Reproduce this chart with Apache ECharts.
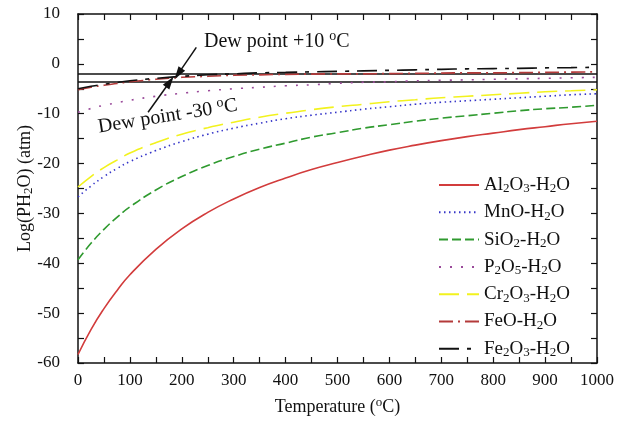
<!DOCTYPE html>
<html>
<head>
<meta charset="utf-8">
<script src="https://cdn.jsdelivr.net/npm/echarts@6/dist/echarts.min.js"></script>
<style>
  html, body { margin: 0; padding: 0; background: #fff; }
  #chart { width: 617px; height: 423px; }
</style>
</head>
<body>
<div id="chart"></div>
<script>
// Temperatura (°C)
const temps = [0, 25, 50, 75, 100, 150, 200, 250, 300, 350, 400, 450, 500, 550, 600, 650, 700, 750, 800, 850, 900, 950, 1000];

// Log(PH2O)
const al2o3 = [-58.3, -53.3, -49.1, -45.5, -42.3, -37.2, -33.1, -29.8, -27.1, -24.8, -22.9, -21.2, -19.8, -18.5, -17.3, -16.3, -15.4, -14.6, -13.9, -13.2, -12.6, -12.0, -11.5];
const mno   = [-26.7, -24.5, -22.6, -21.0, -19.6, -17.4, -15.6, -14.1, -12.9, -11.9, -11.0, -10.3, -9.7, -9.1, -8.6, -8.1, -7.7, -7.4, -7.1, -6.8, -6.5, -6.2, -6.0];
const sio2  = [-39.3, -36.0, -33.2, -30.8, -28.7, -25.3, -22.6, -20.4, -18.6, -17.1, -15.9, -14.7, -13.8, -12.9, -12.2, -11.5, -10.9, -10.4, -9.9, -9.4, -9.0, -8.7, -8.3];
const p2o5  = [-9.7, -8.95, -8.3, -7.8, -7.3, -6.5, -5.9, -5.4, -5.0, -4.7, -4.4, -4.2, -3.9, -3.7, -3.6, -3.4, -3.3, -3.2, -3.1, -3.0, -2.9, -2.8, -2.7];
const cr2o3 = [-24.7, -22.6, -20.8, -19.3, -17.9, -15.8, -14.1, -12.8, -11.7, -10.7, -9.9, -9.2, -8.6, -8.1, -7.6, -7.2, -6.8, -6.5, -6.2, -5.9, -5.6, -5.4, -5.2];
const feo   = [-5.2, -4.7, -4.3, -3.95, -3.6, -3.1, -2.7, -2.5, -2.3, -2.2, -2.1, -2.05, -2.0, -2.0, -1.95, -1.9, -1.85, -1.8, -1.8, -1.75, -1.7, -1.65, -1.6];
const fe2o3 = [-5.0, -4.5, -4.1, -3.75, -3.4, -2.9, -2.5, -2.2, -2.0, -1.8, -1.7, -1.6, -1.5, -1.4, -1.3, -1.2, -1.1, -1.0, -0.95, -0.9, -0.8, -0.75, -0.7];

const seriesNames = ['Al2O3-H2O', 'MnO-H2O', 'SiO2-H2O', 'P2O5-H2O', 'Cr2O3-H2O', 'FeO-H2O', 'Fe2O3-H2O'];

// Puntos de rocío (log atm)
const dewPoints = [-2.0, -3.5];

const xMin = 0, xMax = 1000, xStep = 100;
const yMin = -60, yMax = 10, yStep = 10;

const serif = 'Liberation Serif';
const ink = '#111';

const rich = {
  sub: { fontFamily: serif, fontSize: 13, lineHeight: 14, padding: [8, 0, 0, 0], color: ink },
  sup: { fontFamily: serif, fontSize: 13, lineHeight: 14, padding: [0, 0, 9, 0], color: ink },
};
const chem = (s) => s.replace(/(\d)/g, '{sub|$1}');

const styles = [
  { color: '#d23c3c', type: 'solid' },
  { color: '#3434c8', type: [1.5, 3.5] },
  { color: '#2f9a2f', type: [9, 4] },
  { color: '#9a4a9a', type: [2, 9] },
  { color: '#f2f21e', type: [20, 8] },
  { color: '#b43a3a', type: [14, 5, 2, 5] },
  { color: '#111111', type: [20, 8, 4, 8] },
];
const values = [al2o3, mno, sio2, p2o5, cr2o3, feo, fe2o3];

const chart = echarts.init(document.getElementById('chart'), null, { renderer: 'canvas' });

const axisCommon = {
  axisLine: { show: true, onZero: false, lineStyle: { color: ink, width: 1.5 } },
  axisTick: { show: true, inside: true, length: 6, lineStyle: { color: ink, width: 1.2 } },
  minorTick: { show: true, splitNumber: 2, length: 6, lineStyle: { color: ink, width: 1.2 } },
  splitLine: { show: false },
};

const dataSeries = seriesNames.map((name, i) => ({
  name,
  type: 'line',
  data: temps.map((t, j) => [t, values[i][j]]),
  showSymbol: false,
  symbol: 'none',
  smooth: true,
  z: 3 + i,
  lineStyle: { color: styles[i].color, type: styles[i].type, width: 1.6 },
  itemStyle: { color: styles[i].color },
}));

const option = {
  backgroundColor: '#fff',
  animation: false,
  grid: { left: 78, right: 19, top: 14, bottom: 60 },
  legend: {
    data: seriesNames,
    orient: 'vertical',
    left: 433,
    top: 168,
    itemWidth: 40,
    itemHeight: 12,
    itemGap: 3.3,
    itemStyle: { opacity: 0 },
    formatter: chem,
    textStyle: { fontFamily: serif, fontSize: 19, lineHeight: 24, color: ink, rich },
  },
  xAxis: [
    {
      ...axisCommon,
      type: 'value', min: xMin, max: xMax, interval: xStep,
      name: 'Temperature ({sup|o}C)',
      nameLocation: 'middle', nameGap: 35,
      nameTextStyle: { fontFamily: serif, fontSize: 18, color: ink, rich },
      axisLabel: { fontFamily: serif, fontSize: 17, color: ink, margin: 9, formatter: (v) => String(v) },
    },
    {
      ...axisCommon,
      type: 'value', min: xMin, max: xMax, interval: xStep, position: 'top',
      axisLabel: { show: false },
    },
  ],
  yAxis: [
    {
      ...axisCommon,
      type: 'value', min: yMin, max: yMax, interval: yStep,
      name: 'Log(PH{sub|2}O) (atm)',
      nameLocation: 'middle', nameGap: 44, nameRotate: 90,
      nameMoveOverlap: false,
      nameTextStyle: { fontFamily: serif, fontSize: 18, color: ink, rich },
      axisLabel: { fontFamily: serif, fontSize: 17, color: ink, margin: 18 },
    },
    {
      ...axisCommon,
      type: 'value', min: yMin, max: yMax, interval: yStep, position: 'right',
      axisLabel: { show: false },
    },
  ],
  series: [
    ...dataSeries,
    {
      name: 'dew',
      type: 'line',
      data: [],
      silent: true,
      markLine: {
        silent: true,
        symbol: ['none', 'none'],
        label: { show: false },
        lineStyle: { color: ink, width: 1.5, type: 'solid' },
        data: dewPoints.map((v) => ({ yAxis: v })),
      },
    },
    {
      name: 'notes',
      type: 'line',
      data: [],
      silent: true,
      markLine: {
        silent: true,
        symbol: ['none', 'triangle'],
        symbolSize: [8, 13],
        label: { show: false },
        lineStyle: { color: ink, width: 1.5, type: 'solid' },
        data: [
          [{ coord: [228, 3.3] }, { coord: [193, -2.0] }],
          [{ coord: [135, -9.7] }, { coord: [177, -3.6] }],
        ],
      },
      markPoint: {
        silent: true,
        symbol: 'circle',
        symbolSize: 1,
        itemStyle: { color: 'transparent' },
        label: {
          show: true,
          position: 'inside',
          fontFamily: serif, fontSize: 20, lineHeight: 24, color: ink,
          rich: {
            sup: { fontFamily: serif, fontSize: 14, lineHeight: 14, padding: [0, 0, 10, 0], color: ink },
          },
        },
        data: [
          { coord: [383, 4.5], label: { formatter: 'Dew point +10 {sup|o}C' } },
          { coord: [173, -10.5], label: { formatter: 'Dew point -30 {sup|o}C', rotate: 9 } },
        ],
      },
    },
  ],
};

chart.setOption(option);
</script>
</body>
</html>
